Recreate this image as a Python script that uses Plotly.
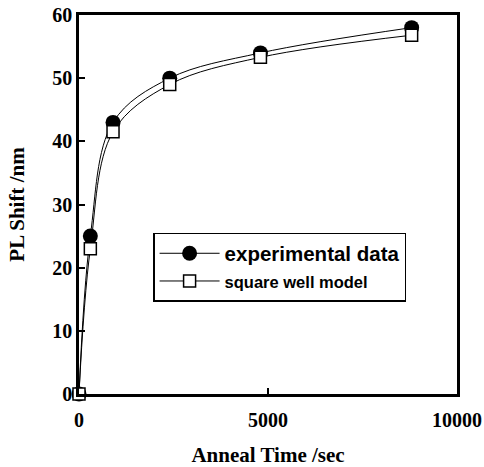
import plotly.graph_objects as go

anneal_time = [0, 300, 900, 2400, 4800, 8800]
experimental = [0, 25, 43, 50, 54, 58]
square_well = [0, 23, 41.5, 49, 53.3, 56.8]
x_ticks = [0, 5000, 10000]
y_ticks = [0, 10, 20, 30, 40, 50, 60]

fig = go.Figure()
fig.add_trace(go.Scatter(
    x=anneal_time, y=experimental, mode="lines+markers",
    name='<span style="font-size:20.5px">experimental data</span>',
    line=dict(color="black", width=1, shape="spline"),
    marker=dict(symbol="circle", size=15, color="black"),
    cliponaxis=False,
))
fig.add_trace(go.Scatter(
    x=anneal_time, y=square_well, mode="lines+markers",
    name='<span style="font-size:16.5px">square well model</span>',
    line=dict(color="black", width=1, shape="spline"),
    marker=dict(symbol="square", size=12, color="white", line=dict(color="black", width=1.5)),
    cliponaxis=False,
))

tick_font = dict(family="Liberation Serif", size=20, color="black", weight="bold")
title_font = dict(family="Liberation Serif", size=21, color="black", weight="bold")
fig.update_layout(
    width=484, height=467,
    margin=dict(l=79, r=27, t=15, b=73, autoexpand=False),
    paper_bgcolor="white", plot_bgcolor="white",
    showlegend=True,
    legend=dict(
        x=0.196, y=0.425, xanchor="left", yanchor="top",
        bordercolor="black", borderwidth=1.5, bgcolor="white",
        font=dict(family="Liberation Sans", size=19, color="black", weight="bold"),
        itemwidth=60, tracegroupgap=0,
    ),
    xaxis=dict(
        range=[0, 10000], tickvals=x_ticks, ticktext=[str(v) for v in x_ticks],
        ticks="inside", ticklen=6, tickwidth=2, tickcolor="black",
        showline=True, linecolor="black", linewidth=2.5, mirror=True,
        showgrid=False, zeroline=False, tickfont=tick_font, automargin=False,
        ticklabelstandoff=6,
        title=dict(text="Anneal Time /sec", font=title_font, standoff=27),
    ),
    yaxis=dict(
        range=[0, 60], tickvals=y_ticks, ticktext=[str(v) for v in y_ticks],
        ticks="inside", ticklen=6, tickwidth=2, tickcolor="black",
        showline=True, linecolor="black", linewidth=2.5, mirror=True,
        showgrid=False, zeroline=False, tickfont=tick_font, automargin=False,
        title=dict(text="PL Shift /nm", font=title_font, standoff=22),
    ),
)
fig.write_html("out.html", config={"displayModeBar": False},
               post_script="document.body.style.margin='0';")
